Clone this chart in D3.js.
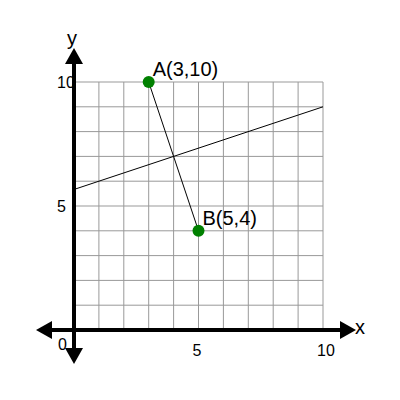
<!DOCTYPE html>
<html><head><meta charset="utf-8">
<script src="https://cdn.jsdelivr.net/npm/d3@7"></script>
<style>body{margin:0;background:#fff}</style>
</head><body><div id="chart"></div>
<script>
var points = [{name: 'A', x: 3, y: 10}, {name: 'B', x: 5, y: 4}];
var gridTicks = [0, 1, 2, 3, 4, 5, 6, 7, 8, 9, 10];
var labelTicks = [5, 10];

var svg = d3.select('#chart').append('svg').attr('width', 400).attr('height', 400);
var x = d3.scaleLinear().domain([0, 10]).range([74, 323]);
var y = d3.scaleLinear().domain([0, 10]).range([330, 82]);

var g = svg.append('g');
// grid
g.selectAll('.vx').data(gridTicks).enter().append('line')
    .attr('x1', function (d) { return x(d); }).attr('x2', function (d) { return x(d); })
    .attr('y1', y(0)).attr('y2', y(10)).attr('stroke', '#999').attr('stroke-width', 1);
g.selectAll('.hy').data(gridTicks).enter().append('line')
    .attr('y1', function (d) { return y(d); }).attr('y2', function (d) { return y(d); })
    .attr('x1', x(0)).attr('x2', x(10)).attr('stroke', '#999').attr('stroke-width', 1);

// perpendicular bisector of AB
var mx = (points[0].x + points[1].x) / 2, my = (points[0].y + points[1].y) / 2;
var slope = -(points[1].x - points[0].x) / (points[1].y - points[0].y);
g.append('line')
    .attr('x1', x(0)).attr('y1', y(my + slope * (0 - mx)))
    .attr('x2', x(10)).attr('y2', y(my + slope * (10 - mx)))
    .attr('stroke', '#000').attr('stroke-width', 1);

// segment AB
g.append('line')
    .attr('x1', x(points[0].x)).attr('y1', y(points[0].y))
    .attr('x2', x(points[1].x)).attr('y2', y(points[1].y))
    .attr('stroke', '#000').attr('stroke-width', 1);

var font = 'Liberation Sans, Arial, sans-serif';
// tick labels (drawn under the axis like the reference)
g.append('text').attr('x', 58).attr('y', 350).attr('font-family', font).attr('font-size', 16).text('0');
g.selectAll('.xl').data(labelTicks).enter().append('text')
    .attr('x', function (d) { return x(d) - 6; }).attr('y', 356)
    .attr('font-family', font).attr('font-size', 16)
    .text(function (d) { return d; });
g.selectAll('.yl').data(labelTicks).enter().append('text')
    .attr('x', 57).attr('y', function (d) { return y(d) + 6; })
    .attr('font-family', font).attr('font-size', 16)
    .text(function (d) { return d; });

// axes
g.append('line').attr('x1', 44).attr('x2', 346).attr('y1', y(0)).attr('y2', y(0))
    .attr('stroke', '#000').attr('stroke-width', 4);
g.append('line').attr('x1', x(0)).attr('x2', x(0)).attr('y1', 56).attr('y2', 354)
    .attr('stroke', '#000').attr('stroke-width', 4);
var ax = x(0), ay = y(0);
[
    [[36, ay], [52, ay - 9], [52, ay + 9]],
    [[356, ay], [340, ay - 9], [340, ay + 9]],
    [[ax, 48], [ax - 9, 64], [ax + 9, 64]],
    [[ax, 364], [ax - 9, 348], [ax + 9, 348]]
].forEach(function (p) {
    g.append('polygon').attr('points', p.join(' ')).attr('fill', '#000');
});

g.append('text').attr('x', 355).attr('y', 334).attr('font-family', font).attr('font-size', 20).text('x');
g.append('text').attr('x', 67).attr('y', 45).attr('font-family', font).attr('font-size', 20).text('y');

// points
g.selectAll('circle').data(points).enter().append('circle')
    .attr('cx', function (d) { return x(d.x); }).attr('cy', function (d) { return y(d.y); })
    .attr('r', 6).attr('fill', 'green');
g.selectAll('.pl').data(points).enter().append('text')
    .attr('x', function (d) { return x(d.x) + 4; }).attr('y', function (d) { return y(d.y) - 6; })
    .attr('font-family', font).attr('font-size', 20)
    .text(function (d) { return d.name + '(' + d.x + ',' + d.y + ')'; });
</script></body></html>
